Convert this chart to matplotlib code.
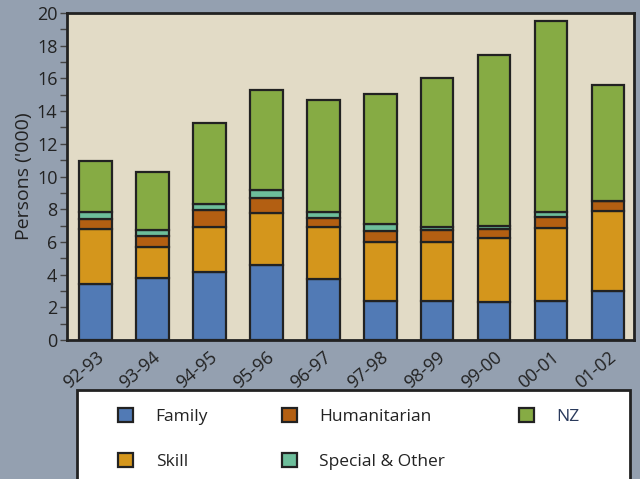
import numpy as np
import matplotlib.pyplot as plt
from matplotlib.patches import Rectangle

plt.rcParams['font.family'] = ['Open Sans', 'DejaVu Sans']

years = ['92-93', '93-94', '94-95', '95-96', '96-97', '97-98', '98-99', '99-00', '00-01', '01-02']
family = [3.40, 3.79, 4.17, 4.58, 3.73, 2.40, 2.40, 2.32, 2.40, 3.01]
skill = [3.38, 1.89, 2.75, 3.16, 3.19, 3.59, 3.59, 3.91, 4.46, 4.87]
humanitarian = [0.61, 0.67, 1.02, 0.95, 0.55, 0.69, 0.77, 0.55, 0.67, 0.61]
special = [0.41, 0.41, 0.39, 0.47, 0.39, 0.41, 0.16, 0.20, 0.27, 0.0]
nz = [3.13, 3.52, 4.92, 6.15, 6.84, 7.98, 9.08, 10.45, 11.73, 7.13]

series = [('Family', family, '#517ab5'),
          ('Skill', skill, '#d4961c'),
          ('Humanitarian', humanitarian, '#b35f12'),
          ('Special & Other', special, '#6dbe9b'),
          ('NZ', nz, '#86ab44')]

fig = plt.figure(figsize=(6.4, 4.79), dpi=100, facecolor='#94a0b0')
ax = fig.add_axes([0.105, 0.29, 0.885, 0.683])
ax.set_facecolor('#e2dbc6')

x = np.arange(len(years))
bottom = np.zeros(len(years))
handles = []
for name, vals, col in series:
    vals = np.array(vals)
    b = ax.bar(x, vals, 0.57, bottom=bottom, color=col, edgecolor='#222222',
               linewidth=1.6, label=name)
    handles.append(b)
    bottom += vals

ax.set_xlim(-0.5, len(years) - 0.55)
ax.set_ylim(0, 20)
ax.set_yticks(np.arange(0, 21, 2))
ax.set_yticks(np.arange(0, 21, 1), minor=True)
ax.tick_params(axis='y', which='both', length=5, width=1, color='#444444',
               labelsize=13, labelcolor='#222222', pad=2)
ax.set_xticks(x)
ax.set_xticklabels(years, rotation=40, ha='right', rotation_mode='anchor',
                   fontsize=13, color='#222222')
ax.tick_params(axis='x', length=0, pad=6)
ax.set_ylabel("Persons ('000)", fontsize=14, color='#222222', labelpad=3)
for s in ax.spines.values():
    s.set_linewidth(2)
    s.set_color('#222222')

# legend box
fig.patches.append(Rectangle((0.12, -0.05), 0.864, 0.236, transform=fig.transFigure,
                             facecolor='white', edgecolor='#222222', linewidth=2))
leg = fig.legend(handles=handles,
                 labels=['Family', 'Skill', 'Humanitarian', 'Special & Other', 'NZ'],
                 ncol=3, loc='upper left', bbox_to_anchor=(0.185, 0.148, 0.72, 0.0),
                 mode='expand', frameon=False, fontsize=12.5, handlelength=0.85,
                 handleheight=0.85, handletextpad=1.3, labelspacing=1.6,
                 borderaxespad=0, borderpad=0)
for t in leg.get_texts():
    t.set_color('#222222')
leg.get_texts()[4].set_color('#2a3a5c')

fig.savefig('out.png', dpi=100, facecolor=fig.get_facecolor())
